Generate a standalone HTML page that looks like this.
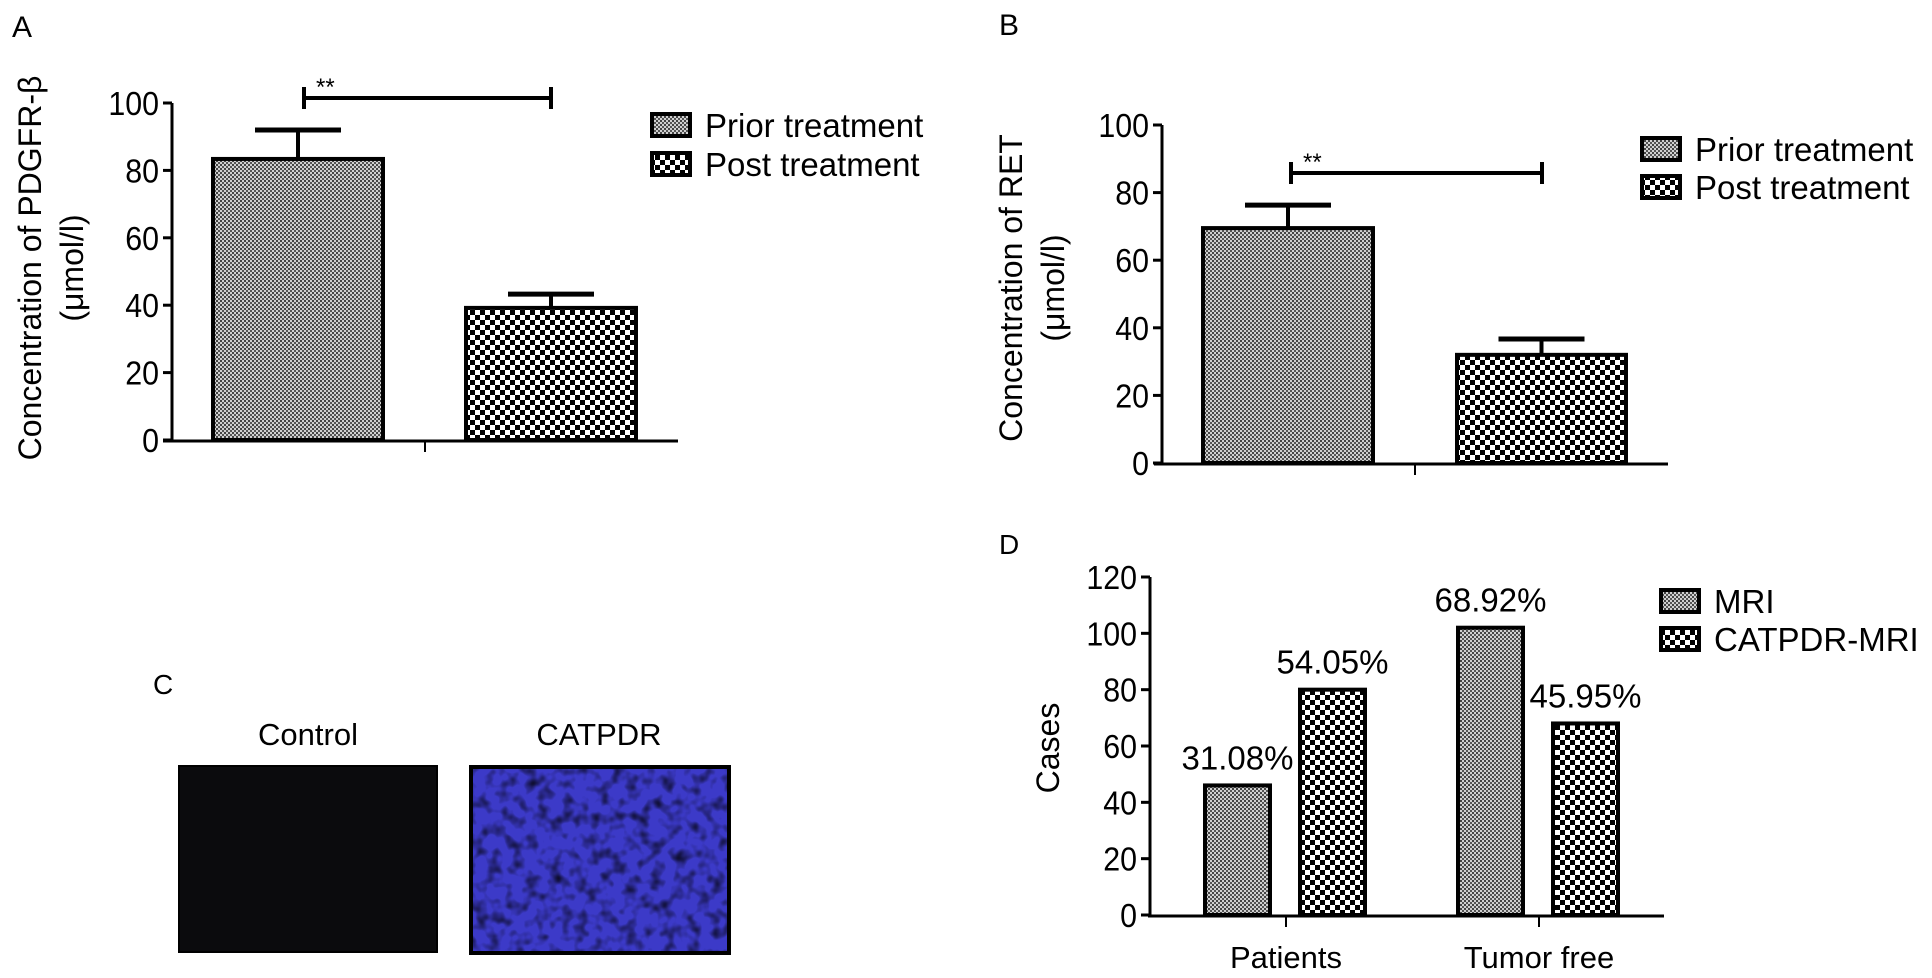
<!DOCTYPE html>
<html><head><meta charset="utf-8"><style>
html,body{margin:0;padding:0;background:#fff;}
svg{display:block;font-family:"Liberation Sans",Arial,sans-serif;}
</style></head><body>
<svg id="fig" width="1932" height="978" viewBox="0 0 1932 978" xmlns="http://www.w3.org/2000/svg">
<defs>
<pattern id="fine" width="4" height="4" patternUnits="userSpaceOnUse">
<rect width="4" height="4" fill="#d0d0d0"/><rect width="2" height="2" fill="#444"/><rect x="2" y="2" width="2" height="2" fill="#555"/>
</pattern>
<pattern id="coarse" width="10" height="10" patternUnits="userSpaceOnUse">
<rect width="10" height="10" fill="#fff"/><rect width="5" height="5" fill="#000"/><rect x="5" y="5" width="5" height="5" fill="#000"/>
</pattern>
<filter id="tex" x="0" y="0" width="100%" height="100%">
<feTurbulence type="fractalNoise" baseFrequency="0.08" numOctaves="2" seed="3"/>
<feColorMatrix type="matrix" values="0 0 0 0 0  0 0 0 0 0  0 0 0 0 0  0 0 0 -2.2 1.2"/>
</filter>
</defs>
<text x="12" y="37" font-size="30">A</text>
<text x="999" y="35" font-size="30">B</text>
<text x="153" y="694" font-size="28">C</text>
<text x="999" y="554" font-size="28">D</text>
<g>
<text x="308" y="745" font-size="31" text-anchor="middle">Control</text>
<text x="599" y="745" font-size="31" text-anchor="middle">CATPDR</text>
<rect x="179" y="766" width="258" height="186" fill="#0b0b0d" stroke="#000" stroke-width="2"/>
<g>
<rect x="471" y="767" width="258" height="186" fill="#3c3ac8"/>
<rect x="471" y="767" width="258" height="186" filter="url(#tex)" fill="#111" opacity="0.8"/>
<rect x="471" y="767" width="258" height="186" fill="none" stroke="#000" stroke-width="4"/>
</g>
</g>
<g id="chartA"></g><g id="chartB"></g><g id="chartD"></g>
</svg>
<script>
const aCategories = ["Prior treatment","Post treatment"];
const aValues = [83.4, 39.2];
const aErrors = [8.6, 4.1];
const aTicks = [0,20,40,60,80,100];
const bCategories = ["Prior treatment","Post treatment"];
const bValues = [69.5, 32];
const bErrors = [6.8, 4.7];
const bTicks = [0,20,40,60,80,100];
const dGroups = ["Patients","Tumor free"];
const dSeries = ["MRI","CATPDR-MRI"];
const dMRI = [46, 102];
const dCATPDR = [80, 68];
const dLabelsMRI = ["31.08%","68.92%"];
const dLabelsCAT = ["54.05%","45.95%"];
const dTicks = [0,20,40,60,80,100,120];

const NS="http://www.w3.org/2000/svg";
function mk(parent,tag,attrs,text){const e=document.createElementNS(NS,tag);for(const k in attrs)e.setAttribute(k,attrs[k]);if(text!==undefined)e.textContent=text;parent.appendChild(e);return e;}

function yAxis(g,x,yScale,ticks,tickName){
  const l=mk(g,'line',{x1:x,x2:x,y1:yScale(ticks[ticks.length-1]),y2:yScale(0)+1.5,stroke:'#000','stroke-width':3});
  
  
  ticks.forEach(t=>{
    const tk=mk(g,'line',{x1:x-9,x2:x,y1:yScale(t),y2:yScale(t),stroke:'#000','stroke-width':3});
    
    
    const tl=mk(g,'text',{x:x-13,y:yScale(t)+12,'font-size':33,'text-anchor':'end',transform:`translate(${x-13} 0) scale(0.92 1) translate(${-(x-13)} 0)`},String(t));
    
    
  });
}
function bar(g,x0,x1,y0,y1,fill,name){
  const r=mk(g,'rect',{x:x0,y:y1,width:x1-x0,height:y0-y1,fill:fill,stroke:'#000','stroke-width':4});
  
  
  return r;
}
function legend(g,x,ys,labels,fills,fs){
  labels.forEach((lab,i)=>{
    const s=mk(g,'rect',{x:x,y:ys[i]-11,width:38,height:22,fill:fills[i],stroke:'#000','stroke-width':4});
    
    
    const t=mk(g,'text',{x:x+53,y:ys[i]+12,'font-size':fs},lab);
    
    
  });
}
function ytitle(g,cx,cy,lines,gap){
  lines.forEach((ln,i)=>{
    const x=cx+i*gap;
    const t=mk(g,'text',{x:x,y:cy,'font-size':32,'text-anchor':'middle',transform:`rotate(-90 ${x} ${cy})`},ln);
    
    
  });
}
function sigChart(gid,o,cats,vals,errs,ticks){
  const g=document.getElementById(gid);
  const y=v=>o.y0-(o.y0-o.y100)*v/100;
  vals.forEach((v,i)=>{
    const [x0,x1]=o.bars[i];const cx=(x0+x1)/2;
    const e=mk(g,'line',{x1:cx,x2:cx,y1:y(v),y2:y(v+errs[i]),stroke:'#000','stroke-width':4});
    
    
    const c=mk(g,'line',{x1:cx-43,x2:cx+43,y1:y(v+errs[i]),y2:y(v+errs[i]),stroke:'#000','stroke-width':5});
    
    
    bar(g,x0,x1,o.y0,y(v),i===0?'url(#fine)':'url(#coarse)',i===0?'bar-prior':'bar-post');
  });
  const xa=mk(g,'line',{x1:o.ax0,x2:o.ax1,y1:o.y0+1,y2:o.y0+1,stroke:'#000','stroke-width':3});
  
  
  const xt=mk(g,'line',{x1:o.xt,x2:o.xt,y1:o.y0,y2:o.y0+12,stroke:'#000','stroke-width':2});
  
  
  yAxis(g,o.axis,y,ticks,'y-tick-label');
  const br=mk(g,'path',{d:`M${o.br[0]} ${o.by-11}V${o.by+11}M${o.br[0]} ${o.by}H${o.br[1]}M${o.br[1]} ${o.by-11}V${o.by+11}`,stroke:'#000','stroke-width':4,fill:'none'});
  
  
  const st=mk(g,'text',{x:o.br[0]+12,y:o.by-3,'font-size':24},'**');
  
  
  legend(g,o.lx,o.ly,cats,['url(#fine)','url(#coarse)'],33);
  ytitle(g,o.tx,o.ty,o.title,42);
}
sigChart('chartA',{y0:440,y100:103,axis:172,bars:[[213,383],[466,636]],ax0:163,ax1:678,xt:425,br:[304,551],by:98,lx:652,ly:[125,164],tx:41,ty:268,title:['Concentration of PDGFR-β','(μmol/l)']},aCategories,aValues,aErrors,aTicks);
sigChart('chartB',{y0:463,y100:125,axis:1162,bars:[[1203,1373],[1457,1626]],ax0:1154,ax1:1668,xt:1415,br:[1291,1542],by:173,lx:1642,ly:[149,187],tx:1022,ty:288,title:['Concentration of  RET','(μmol/l)']},bCategories,bValues,bErrors,bTicks);

(function(){
  const g=document.getElementById('chartD');
  const y0=915,y120=577;
  const y=v=>y0-(y0-y120)*v/120;
  const groupX=[1286,1539];
  dGroups.forEach((grp,i)=>{
    const cx=groupX[i];
    const m0=cx-81,m1=cx-16,c0=cx+14,c1=cx+79;
    bar(g,m0,m1,y0,y(dMRI[i]),'url(#fine)','bar-mri');
    bar(g,c0,c1,y0,y(dCATPDR[i]),'url(#coarse)','bar-catpdr-mri');
    const t1=mk(g,'text',{x:(m0+m1)/2,y:y(dMRI[i])-16,'font-size':33,'text-anchor':'middle'},dLabelsMRI[i]);
    
    
    const t2=mk(g,'text',{x:(c0+c1)/2,y:y(dCATPDR[i])-16,'font-size':33,'text-anchor':'middle'},dLabelsCAT[i]);
    
    
    const tk=mk(g,'line',{x1:cx,x2:cx,y1:y0,y2:y0+12,stroke:'#000','stroke-width':2});
    
    
    const xl=mk(g,'text',{x:cx,y:968,'font-size':31,'text-anchor':'middle'},grp);
    
    
  });
  const xa=mk(g,'line',{x1:1148,x2:1664,y1:y0+1,y2:y0+1,stroke:'#000','stroke-width':3});
  
  
  yAxis(g,1150,y,dTicks,'y-tick-label');
  legend(g,1661,[601,639],dSeries,['url(#fine)','url(#coarse)'],33);
  ytitle(g,1059,748,['Cases'],0);
})();
</script>
</body></html>
